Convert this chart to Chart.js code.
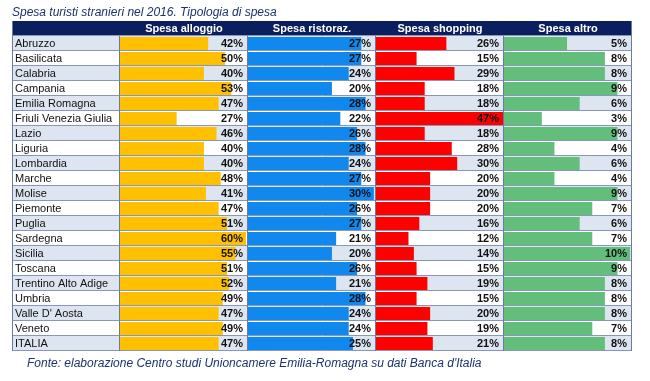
<!DOCTYPE html>
<html><head><meta charset="utf-8">
<script src="https://cdn.jsdelivr.net/npm/chart.js@4/dist/chart.umd.min.js"></script>
<style>html,body{margin:0;padding:0;background:#fff;}#wrap{width:650px;height:381px;position:relative;}</style>
</head><body><div id="wrap"><canvas id="c" width="650" height="381"></canvas></div>
<script>
const titleText = "Spesa turisti stranieri nel 2016. Tipologia di spesa";
const sourceText = "Fonte: elaborazione Centro studi Unioncamere Emilia-Romagna su dati Banca d'Italia";
const regions = ["Abruzzo","Basilicata","Calabria","Campania","Emilia Romagna","Friuli Venezia Giulia","Lazio","Liguria","Lombardia","Marche","Molise","Piemonte","Puglia","Sardegna","Sicilia","Toscana","Trentino Alto Adige","Umbria","Valle D' Aosta","Veneto","ITALIA"];
const seriesNames = ["Spesa alloggio","Spesa ristoraz.","Spesa shopping","Spesa altro"];
const alloggio = [42,50,40,53,47,27,46,40,40,48,41,47,51,60,55,51,52,49,47,49,47];
const ristoraz = [27,27,24,20,28,22,26,28,24,27,30,26,27,21,20,26,21,28,24,24,25];
const shopping = [26,15,29,18,18,47,18,28,30,20,20,20,16,12,14,15,19,15,20,19,21];
const altro    = [5,8,8,9,6,3,9,4,6,4,9,7,6,7,10,9,8,8,8,7,8];

const seriesData = [alloggio, ristoraz, shopping, altro];
const colors = ['#FFC000','#1088EE','#FF0000','#63BE7B'];
const maxes = [61, 30.5, 47.3, 10.15];
const FONT = "'Liberation Sans', Arial, sans-serif";
const TABLE_L = 13, HEADER_T = 21;

const tablePlugin = {
  id: 'tablePlugin',
  beforeDraw(chart) {
    const ctx = chart.ctx, ca = chart.chartArea;
    const right = ca.right;
    const rowH = (ca.bottom - ca.top) / regions.length;
    ctx.save();
    ctx.fillStyle = '#fff';
    ctx.fillRect(0, 0, chart.width, chart.height);
    // title
    ctx.fillStyle = '#1B326E';
    ctx.font = "italic 12px " + FONT;
    ctx.textBaseline = 'middle';
    ctx.textAlign = 'left';
    ctx.fillText(titleText, 12, 12.5);
    // source
    ctx.font = "italic 12px " + FONT;
    ctx.fillText(sourceText, 27, 364);
    // header
    ctx.fillStyle = '#0B1F5E';
    ctx.fillRect(TABLE_L, HEADER_T, right - TABLE_L, ca.top - HEADER_T);
    ctx.fillStyle = '#fff';
    ctx.font = "bold 11px " + FONT;
    ctx.textAlign = 'center';
    for (let i = 0; i < 4; i++) {
      const s = chart.scales['x' + i];
      ctx.fillText(seriesNames[i], (s.left + s.right) / 2, (HEADER_T + ca.top) / 2 + 0.5);
    }
    // row shading
    ctx.fillStyle = '#DCE5F0';
    const ys = chart.scales.y;
    for (let r = 0; r < regions.length; r++) {
      if (r % 2 === 0) {
        const yc = ys.getPixelForValue(r);
        ctx.fillRect(TABLE_L, yc - rowH / 2, right - TABLE_L, rowH);
      }
    }
    ctx.restore();
  },
  afterDatasetsDraw(chart) {
    const ctx = chart.ctx, ca = chart.chartArea;
    const right = ca.right;
    const rowH = (ca.bottom - ca.top) / regions.length;
    ctx.save();
    // horizontal lines
    ctx.strokeStyle = '#8797B9';
    ctx.lineWidth = 1;
    ctx.beginPath();
    for (let k = 0; k <= regions.length; k++) {
      const y = Math.round(ca.top + k * rowH) - 0.5;
      ctx.moveTo(TABLE_L, y); ctx.lineTo(right, y);
    }
    ctx.stroke();
    // vertical lines
    ctx.strokeStyle = '#6A7BA3';
    ctx.beginPath();
    const xs = [TABLE_L, chart.scales.x0.left, chart.scales.x1.left, chart.scales.x2.left, chart.scales.x3.left, right];
    xs.forEach((x, i) => {
      const px = Math.round(x) - 0.5;
      ctx.moveTo(px, (i === 0 || i === xs.length - 1) ? HEADER_T : ca.top);
      ctx.lineTo(px, ca.bottom);
    });
    ctx.stroke();
    // value labels
    ctx.fillStyle = '#111';
    ctx.font = "bold 11px " + FONT;
    ctx.textAlign = 'right';
    ctx.textBaseline = 'middle';
    chart.data.datasets.forEach((ds, i) => {
      const meta = chart.getDatasetMeta(i);
      const s = chart.scales['x' + i];
      meta.data.forEach((el, j) => {
        ctx.fillText(ds.data[j] + '%', s.right - 5, el.y + 0.5);
      });
    });
    ctx.restore();
  }
};

const scales = {
  y: {
    type: 'category',
    position: 'left',
    grid: { display: false },
    border: { display: false },
    ticks: { crossAlign: 'far', autoSkip: false, padding: 0, color: '#111', font: { family: FONT, size: 11 } },
    afterFit(s) { s.width = 105; }
  }
};
for (let i = 0; i < 4; i++) {
  scales['x' + i] = {
    type: 'linear', position: 'bottom', stack: 'cols', stackWeight: 1,
    min: 0, max: maxes[i], display: false
  };
}

new Chart(document.getElementById('c'), {
  type: 'bar',
  data: {
    labels: regions,
    datasets: seriesData.map((d, i) => ({
      label: seriesNames[i],
      data: d,
      xAxisID: 'x' + i,
      backgroundColor: colors[i],
      borderWidth: 0,
      barPercentage: 0.86,
      categoryPercentage: 1,
      grouped: false
    }))
  },
  options: {
    indexAxis: 'y',
    responsive: false,
    devicePixelRatio: 1,
    animation: false,
    layout: { padding: { left: 15, right: 18, top: 36, bottom: 30 } },
    plugins: { legend: { display: false }, tooltip: { enabled: false }, title: { display: false } },
    scales
  },
  plugins: [tablePlugin]
});
</script></body></html>
